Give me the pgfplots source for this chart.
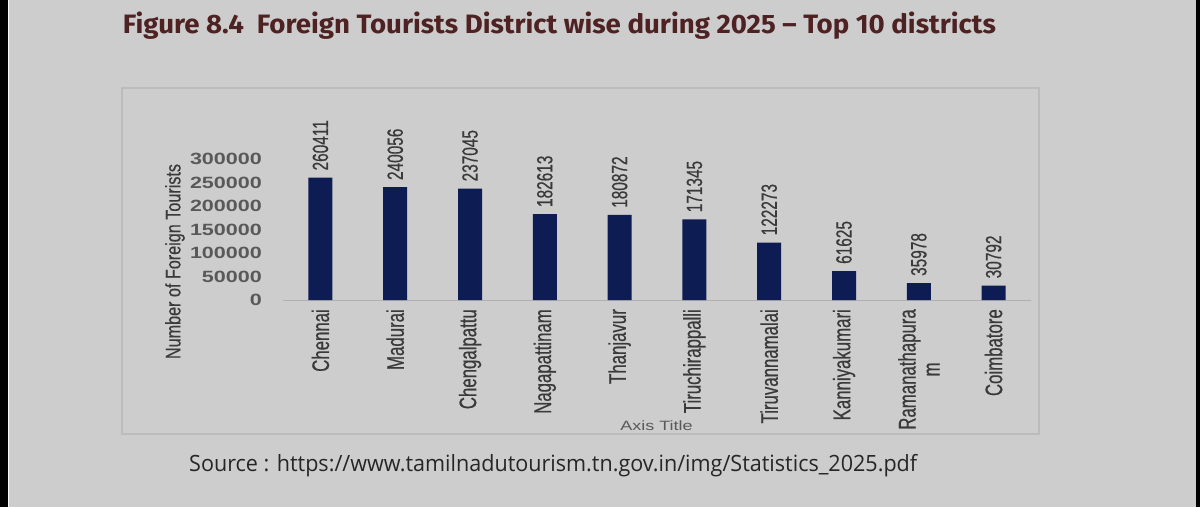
\documentclass[border=0pt]{standalone}
\usepackage{pgfplots}
\pgfplotsset{compat=1.18}
\usepackage{pgfplotstable}
\usepackage{graphicx}
\usepackage{fontspec}
\setmainfont{Liberation Sans}
\newfontfamily\valfont[FakeStretch=0.70, FakeBold=0.5]{Liberation Sans}
\newfontfamily\catfont[FakeStretch=0.70, FakeBold=0.5]{Liberation Sans}
\newfontfamily\ylabfont[FakeStretch=0.77, FakeBold=0.3]{Liberation Sans}
\newfontfamily\tickfont[FakeStretch=1.32]{Liberation Sans}
\newfontfamily\axtfont[FakeStretch=1.33]{Liberation Sans}
\newfontfamily\titlefont{Fira Sans}
\newfontfamily\srcfont{Open Sans}

\definecolor{bggray}{RGB}{205,205,205}
\definecolor{boxgray}{RGB}{188,188,188}
\definecolor{barnavy}{RGB}{13,28,82}
\definecolor{titlecolor}{RGB}{78,34,34}
\definecolor{srccolor}{RGB}{38,38,38}
\definecolor{labelgray}{RGB}{58,58,58}
\definecolor{tickgray}{RGB}{89,89,89}
\definecolor{axisgray}{RGB}{176,176,176}

% Foreign tourist arrivals, top 10 districts, 2025
\pgfplotstableread{
idx value
0 260411
1 240056
2 237045
3 182613
4 180872
5 171345
6 122273
7 61625
8 35978
9 30792
}\districtdata

\begin{document}
\begin{tikzpicture}[x=1pt,y=1pt]
\path[use as bounding box, fill=bggray] (0,0) rectangle (1200,507);
\fill[black] (0,0) rectangle (8,507);
\fill[black] (1196,0) rectangle (1200,507);
\draw[white!85!bggray, line width=0.8pt] (8.6,0) -- (8.6,507);
\draw[boxgray, line width=1.2pt] (122,419) rectangle (1039,73);

\node[anchor=base west, inner sep=0pt, text=titlecolor] at (122.7,473.7)
  {\resizebox{873pt}{\height}{\titlefont\bfseries\fontsize{26.6}{30}\selectfont Figure 8.4\ \ Foreign Tourists District wise during 2025 – Top 10 districts}};
\node[anchor=base west, inner sep=0pt, text=srccolor] at (189,36)
  {\resizebox{728pt}{\height}{\srcfont\fontsize{22.4}{26}\selectfont Source : https://www.tamilnadutourism.tn.gov.in/img/Statistics\_2025.pdf}};

\begin{axis}[
  at={(283pt,207pt)}, anchor=south west,
  width=748pt, height=141pt, scale only axis,
  xmin=-0.5, xmax=9.5, ymin=0, ymax=300000,
  clip=false,
  axis x line=bottom, axis y line=left,
  x axis line style={-, draw=axisgray, line width=1pt},
  y axis line style={draw=none},
  major tick length=0pt,
  scaled y ticks=false,
  xtick={0,1,2,3,4,5,6,7,8,9},
  xticklabels={Chennai, Madurai, Chengalpattu, Nagapattinam, Thanjavur, Tiruchirappalli, Tiruvannamalai, Kanniyakumari, {Ramanathapura\\m}, Coimbatore},
  xticklabel style={rotate=90, anchor=east, align=center,
    font=\catfont\fontsize{24}{24}\selectfont, text=labelgray,
    inner xsep=9pt, inner ysep=0pt},
  ytick={0,50000,100000,150000,200000,250000,300000},
  yticklabels={0,50000,100000,150000,200000,250000,300000},
  yticklabel style={anchor=east, inner sep=0pt, xshift=-21pt,
    font=\tickfont\bfseries\fontsize{16.3}{18}\selectfont, text=tickgray},
  xlabel={Axis Title},
  xlabel style={at={(axis description cs:0.4993,-0.894)}, anchor=center,
    inner sep=0pt, font=\axtfont\fontsize{13.5}{15}\selectfont, text=tickgray},
  ylabel={Number of Foreign Tourists},
  ylabel style={at={(axis description cs:-0.1444,0.273)}, anchor=center,
    inner sep=0pt, font=\ylabfont\fontsize{21}{23}\selectfont, text=labelgray},
  ybar, bar width=24pt,
  nodes near coords,
  point meta=explicit symbolic,
  every node near coord/.append style={rotate=90, anchor=west,
    font=\valfont\fontsize{22}{22}\selectfont, text=labelgray,
    inner xsep=7pt, inner ysep=0pt},
]
\addplot[fill=barnavy, draw=none] table[x=idx, y=value, meta=value] {\districtdata};
\end{axis}
\end{tikzpicture}
\end{document}
